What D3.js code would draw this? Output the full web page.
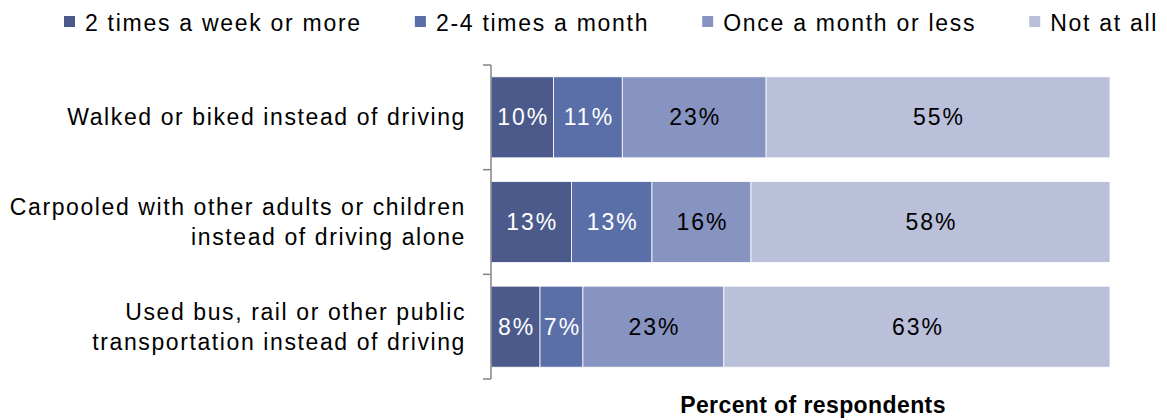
<!DOCTYPE html>
<html>
<head>
<meta charset="utf-8">
<script src="https://cdn.jsdelivr.net/npm/d3@7"></script>
<style>
  html, body { margin: 0; padding: 0; background: #fff; }
  svg { display: block; }
  text { font-family: "Liberation Sans", Arial, sans-serif; }
</style>
</head>
<body>
<svg id="chart" width="1167" height="420"></svg>
<script>
// ---- data ----
const categories = [
  ["Walked or biked instead of driving"],
  ["Carpooled with other adults or children", "instead of driving alone"],
  ["Used bus, rail or other public", "transportation instead of driving"]
];
const seriesNames = ["2 times a week or more", "2-4 times a month", "Once a month or less", "Not at all"];
const weekly  = [10, 13, 8];
const monthly = [11, 13, 7];
const rarely  = [23, 16, 23];
const never   = [55, 58, 63];
const colors = ["#4b5a8b", "#5a6ea8", "#8793c1", "#babfda"];
const labelColors = ["#ffffff", "#ffffff", "#000000", "#000000"];

const seriesValues = [weekly, monthly, rarely, never];
const keys = seriesNames;
const rows = categories.map((c, i) => {
  const r = { idx: i };
  keys.forEach((k, j) => r[k] = seriesValues[j][i]);
  return r;
});

const svg = d3.select("#chart");
const margin = { left: 491, right: 57, top: 65, bottom: 41 };
const W = 1167, H = 420;

const x = d3.scaleLinear().domain([0, 1]).range([margin.left, W - margin.right]);
const y = d3.scaleBand().domain(d3.range(categories.length))
  .range([margin.top, H - margin.bottom]).paddingInner(0.226).paddingOuter(0.113);

const stack = d3.stack().keys(keys).offset(d3.stackOffsetExpand);
const stacked = stack(rows);

// bars
const g = svg.append("g");
stacked.forEach((layer, j) => {
  const lg = g.append("g");
  lg.selectAll("rect").data(layer).join("rect")
    .attr("x", d => x(d[0]))
    .attr("y", (d, i) => y(i))
    .attr("width", d => x(d[1]) - x(d[0]))
    .attr("height", y.bandwidth())
    .attr("fill", colors[j])
    .attr("stroke", "#ffffff")
    .attr("stroke-width", 0.8);
  lg.selectAll("text").data(layer).join("text")
    .attr("x", d => (x(d[0]) + x(d[1])) / 2 + 1)
    .attr("y", (d, i) => y(i) + y.bandwidth() / 2 + 8)
    .attr("text-anchor", "middle")
    .attr("fill", labelColors[j])
    .style("font-size", "23px")
    .style("letter-spacing", "2px")
    .text((d, i) => seriesValues[j][i] + "%");
});

// y axis: vertical line with ticks at band boundaries
const axisG = svg.append("g");
const bounds = d3.range(categories.length + 1).map(i => margin.top + i * y.step());
axisG.append("line")
  .attr("x1", margin.left).attr("x2", margin.left)
  .attr("y1", bounds[0]).attr("y2", bounds[bounds.length - 1])
  .attr("stroke", "#858585").attr("stroke-width", 1.5);
axisG.selectAll("line.tick").data(bounds).join("line")
  .attr("class", "tick")
  .attr("x1", margin.left - 8).attr("x2", margin.left)
  .attr("y1", d => d).attr("y2", d => d)
  .attr("stroke", "#858585").attr("stroke-width", 1.5);

// category labels
const lineH = 30;
categories.forEach((lines, i) => {
  const cy = y(i) + y.bandwidth() / 2;
  const t = svg.append("text")
    .attr("text-anchor", "end")
    .style("font-size", "23px")
    .style("letter-spacing", "1.6px")
    .attr("fill", "#000");
  lines.forEach((ln, k) => {
    t.append("tspan")
      .attr("x", 466)
      .attr("y", cy + 8 + (k - (lines.length - 1) / 2) * lineH)
      .text(ln);
  });
});

// axis title
svg.append("text")
  .attr("x", 813).attr("y", 413)
  .attr("text-anchor", "middle")
  .style("font-size", "23px")
  .style("font-weight", "bold")
  .style("letter-spacing", "0.4px")
  .text("Percent of respondents");

// legend
const leg = svg.append("g");
let lx = 64;
seriesNames.forEach((name, j) => {
  leg.append("rect")
    .attr("x", lx).attr("y", 16).attr("width", 11).attr("height", 11)
    .attr("fill", colors[j]);
  const t = leg.append("text")
    .attr("x", lx + 21).attr("y", 31)
    .style("font-size", "23px")
    .style("letter-spacing", "1.72px")
    .text(name);
  const w = t.node().getComputedTextLength();
  lx = lx + 21 + w + 53;
});
</script>
</body>
</html>
